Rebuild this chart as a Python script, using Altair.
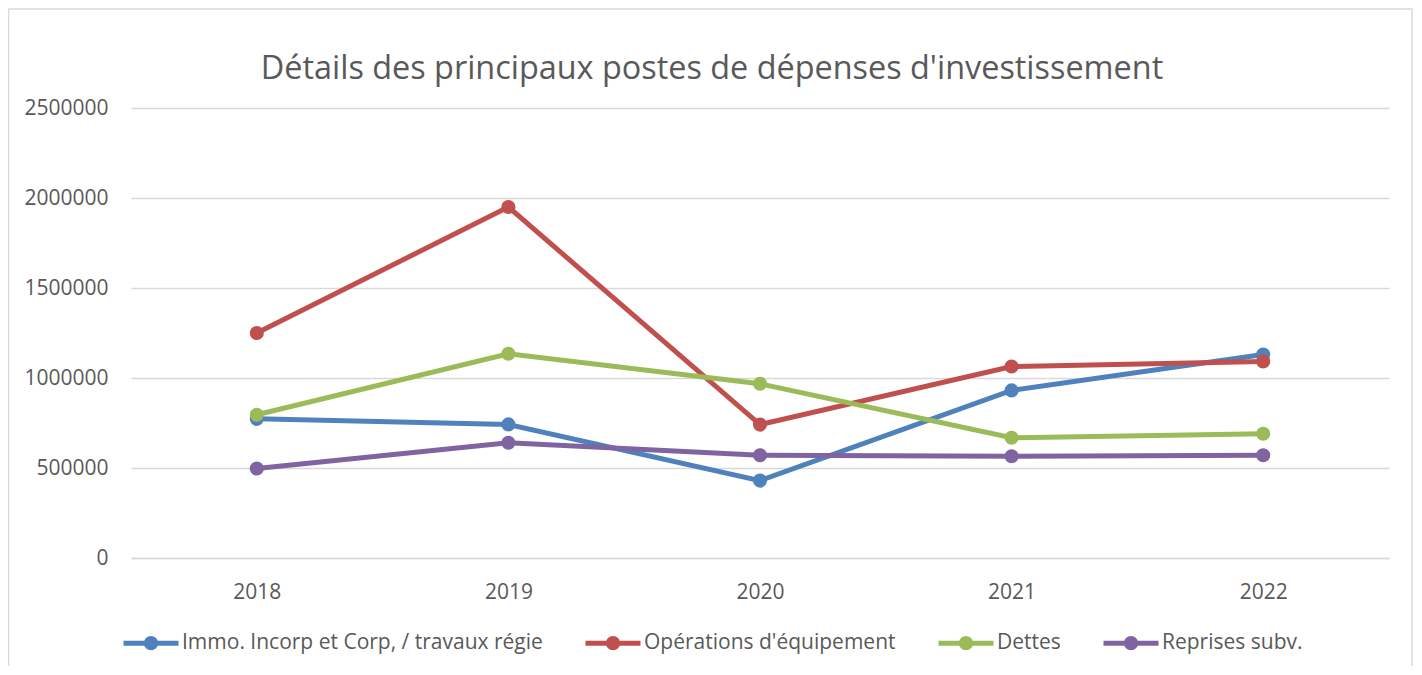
import altair as alt
import pandas as pd

years = ["2018", "2019", "2020", "2021", "2022"]
series_names = [
    "Immo. Incorp et Corp, / travaux régie",
    "Opérations d'équipement",
    "Dettes",
    "Reprises subv.",
]
immo = [773000, 742000, 430000, 931000, 1130000]
operations = [1250000, 1950000, 741000, 1064000, 1092000]
dettes = [796000, 1135000, 968000, 668000, 690000]
reprises = [497000, 640000, 571000, 565000, 571000]
colors = ["#4f81bd", "#c0504d", "#9bbb59", "#8064a2"]
y_ticks = [0, 500000, 1000000, 1500000, 2000000, 2500000]

rows = []
for name, vals in zip(series_names, [immo, operations, dettes, reprises]):
    for yr, v in zip(years, vals):
        rows.append({"Année": yr, "Série": name, "Valeur": v})
df = pd.DataFrame(rows)

W, H = 1258, 450
FONT = "Open Sans"
GRAY = "#595959"
LIGHT = "#d9d9d9"

legend_symbol = (
    "M-1,0L1,0"
    "M0.17,0A0.17,0.17,0,1,1,-0.17,0A0.17,0.17,0,1,1,0.17,0"
    "M0.08,0A0.08,0.08,0,1,1,-0.08,0A0.08,0.08,0,1,1,0.08,0"
)

lines = alt.Chart(df).mark_line(
    strokeWidth=5,
    point=alt.OverlayMarkDef(filled=True, size=200, opacity=1),
).encode(
    x=alt.X(
        "Année:O",
        scale=alt.Scale(type="point", padding=0.5),
        axis=alt.Axis(
            title=None, labelAngle=0, ticks=False, labelPadding=23,
            labelFontSize=21, labelColor=GRAY, domainColor=LIGHT,
            domainWidth=1.5, grid=False,
        ),
    ),
    y=alt.Y(
        "Valeur:Q",
        scale=alt.Scale(domain=[0, 2500000], nice=False),
        axis=alt.Axis(
            title=None, values=y_ticks, format="d", ticks=False,
            labelPadding=23, labelFontSize=21, labelColor=GRAY,
            domain=False, gridColor=LIGHT, gridWidth=1.5,
        ),
    ),
    color=alt.Color(
        "Série:N",
        sort=series_names,
        scale=alt.Scale(domain=series_names, range=colors),
        legend=alt.Legend(
            title=None, orient="none", direction="horizontal",
            legendX=-10, legendY=505,
            symbolType=legend_symbol, symbolSize=3025, symbolStrokeWidth=5,
            labelFontSize=21, labelColor=GRAY, labelOffset=1,
            columnPadding=32, labelLimit=600,
        ),
    ),
    order=alt.Order("Année:O"),
)

frame = alt.Chart(alt.Data(values=[{"a": 1}])).mark_rect(
    fill=None, stroke=LIGHT, strokeWidth=1.5
).encode(
    x=alt.value(-122.5), x2=alt.value(1281),
    y=alt.value(-99), y2=alt.value(620),
)

chart = alt.layer(frame, lines).properties(
    width=W,
    height=H,
    title=alt.TitleParams(
        "Détails des principaux postes de dépenses d'investissement",
        fontSize=32.4, font=FONT, fontWeight="normal", color=GRAY,
        anchor="middle", dx=-48, offset=-77,
    ),
    autosize=alt.AutoSizeParams(type="none"),
    padding={"left": 123, "top": 100, "right": 25, "bottom": 108},
).configure(font=FONT).configure_view(stroke=None)

chart.save("out.html", embed_options={"renderer": "svg", "actions": False})
